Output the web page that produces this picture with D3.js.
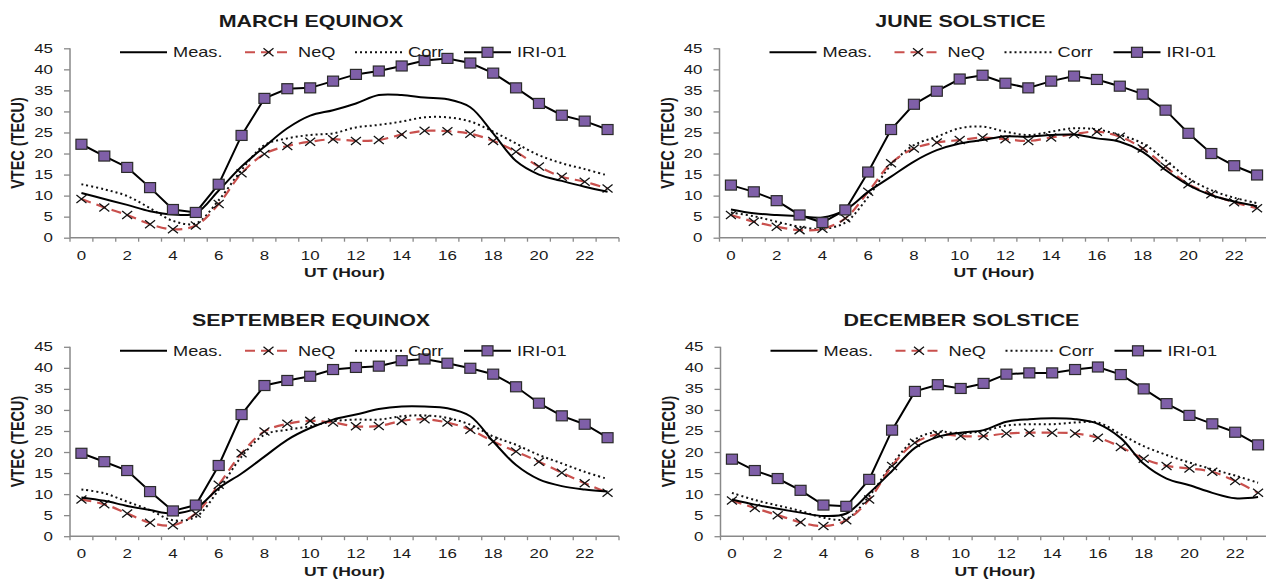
<!DOCTYPE html>
<html>
<head>
<meta charset="utf-8">
<script src="https://cdn.jsdelivr.net/npm/d3@7"></script>
<style>
  html, body { margin: 0; padding: 0; background: #fff; }
  svg { display: block; }
  text { font-family: "Liberation Sans", Arial, sans-serif; fill: #1a1a1a; }
</style>
</head>
<body>
<div id="chart"></div>
<script>
// hours 0..23, every other one labelled
const hours = d3.range(0, 24);
const hourLabels = hours.filter(h => h % 2 === 0);
const yTicks = [0, 5, 10, 15, 20, 25, 30, 35, 40, 45];
const seriesNames = ['Meas.', 'NeQ', 'Corr', 'IRI-01'];

// March equinox
const marchMeas = [10.6, 9.2, 7.8, 6.3, 5.5, 5.8, 11.2, 16.9, 21.6, 26.0, 29.0, 30.3, 31.9, 33.9, 33.9, 33.3, 32.9, 31.0, 24.8, 18.2, 15.0, 13.5, 12.1, 10.9];
const marchNeQ = [9.2, 7.2, 5.4, 3.2, 2.0, 2.9, 8.0, 15.3, 19.9, 21.8, 22.8, 23.4, 23.0, 23.2, 24.5, 25.4, 25.3, 24.7, 23.0, 20.4, 16.9, 14.5, 13.3, 11.7];
const marchCorr = [12.7, 11.5, 9.9, 7.0, 4.0, 3.4, 8.9, 16.1, 22.0, 23.6, 24.4, 24.8, 26.2, 26.8, 27.6, 28.6, 28.6, 27.6, 25.2, 22.4, 19.6, 17.7, 16.3, 14.8];
const marchIRI = [22.2, 19.4, 16.7, 11.9, 6.7, 6.0, 12.7, 24.3, 33.1, 35.4, 35.6, 37.2, 38.8, 39.6, 40.8, 42.1, 42.6, 41.5, 39.1, 35.6, 31.9, 29.1, 27.7, 25.7];

// June solstice
const juneMeas = [6.7, 5.8, 5.4, 5.1, 4.8, 6.6, 10.9, 14.5, 18.1, 20.8, 22.4, 23.2, 24.1, 24.0, 24.4, 24.5, 23.6, 22.8, 20.4, 16.1, 12.5, 10.1, 8.6, 7.5];
const juneNeQ = [5.4, 3.8, 2.6, 1.8, 2.1, 4.6, 10.9, 17.7, 21.2, 22.6, 23.2, 23.8, 23.4, 23.0, 23.8, 24.6, 25.2, 24.0, 21.2, 16.9, 12.7, 10.3, 8.4, 7.0];
const juneCorr = [6.0, 5.1, 3.8, 2.6, 2.1, 3.6, 9.7, 17.3, 22.0, 24.0, 26.0, 26.4, 25.2, 24.4, 25.2, 26.0, 25.7, 24.4, 22.4, 18.4, 14.1, 11.3, 9.5, 8.2];
const juneIRI = [12.5, 10.9, 8.8, 5.4, 3.6, 6.6, 15.6, 25.7, 31.7, 34.8, 37.7, 38.6, 36.7, 35.6, 37.2, 38.4, 37.6, 36.0, 34.1, 30.3, 24.8, 20.0, 17.1, 14.9];

// September equinox
const septMeas = [9.2, 8.4, 7.2, 6.2, 5.4, 6.6, 11.4, 14.9, 18.9, 22.9, 25.7, 27.7, 28.9, 30.2, 30.8, 30.8, 30.4, 28.5, 22.5, 16.9, 13.5, 11.9, 11.1, 10.6];
const septNeQ = [8.7, 7.6, 5.4, 3.2, 2.6, 5.4, 12.2, 19.7, 24.9, 26.7, 27.4, 27.0, 26.1, 26.2, 27.4, 27.8, 27.0, 25.3, 22.5, 20.1, 17.7, 15.1, 12.6, 10.3];
const septCorr = [11.1, 10.2, 8.2, 6.2, 3.8, 4.6, 11.0, 18.9, 24.1, 25.3, 26.1, 27.3, 27.7, 27.7, 28.5, 28.7, 28.1, 26.5, 23.7, 21.7, 19.3, 17.3, 15.3, 13.6];
const septIRI = [19.7, 17.7, 15.6, 10.6, 6.0, 7.4, 16.8, 28.9, 35.8, 37.0, 38.0, 39.6, 40.1, 40.4, 41.7, 42.1, 41.1, 39.9, 38.5, 35.5, 31.6, 28.6, 26.6, 23.4];

// December solstice
const decMeas = [8.7, 7.5, 6.5, 5.6, 4.8, 5.4, 10.2, 15.5, 21.0, 23.6, 24.6, 25.2, 27.2, 27.8, 28.0, 27.8, 26.7, 23.3, 17.2, 13.7, 12.1, 10.3, 9.0, 9.3];
const decNeQ = [8.5, 6.7, 5.0, 3.3, 2.4, 3.8, 8.7, 16.7, 22.2, 24.2, 23.8, 23.8, 24.4, 24.6, 24.6, 24.4, 23.4, 21.2, 18.4, 16.7, 16.1, 15.3, 13.1, 10.3];
const decCorr = [10.3, 8.6, 7.3, 6.0, 4.4, 4.1, 9.5, 17.1, 23.0, 24.8, 24.4, 25.0, 26.3, 26.6, 26.6, 27.0, 27.0, 24.2, 21.4, 19.3, 17.5, 15.9, 14.4, 12.7];
const decIRI = [18.3, 15.6, 13.7, 10.9, 7.4, 7.1, 13.5, 25.2, 34.4, 36.0, 35.1, 36.3, 38.5, 38.8, 38.8, 39.6, 40.2, 38.4, 35.0, 31.5, 28.7, 26.7, 24.7, 21.7];

const panels = [
  { title: 'MARCH EQUINOX', ox: 0, oy: 0, series: [marchMeas, marchNeQ, marchCorr, marchIRI] },
  { title: 'JUNE SOLSTICE', ox: 649.5, oy: 0, series: [juneMeas, juneNeQ, juneCorr, juneIRI] },
  { title: 'SEPTEMBER EQUINOX', ox: 0, oy: 298.5, series: [septMeas, septNeQ, septCorr, septIRI] },
  { title: 'DECEMBER SOLSTICE', ox: 650.5, oy: 298.5, series: [decMeas, decNeQ, decCorr, decIRI] }
];

const W = 1266, H = 582;
const SX = 1.3; // the picture is stretched sideways, text too
const axisColor = '#898989';
const neqColor = '#c9504d';
const iriFill = '#7f5fa8';

const svg = d3.select('#chart').append('svg')
  .attr('width', W).attr('height', H);

// text helper: stretched horizontally like the original
function label(g, str, x, y, opts) {
  opts = opts || {};
  const t = g.append('text')
    .attr('transform', `translate(${x},${y}) scale(${SX},1)` + (opts.rotate ? ` rotate(${opts.rotate})` : ''))
    .attr('text-anchor', opts.anchor || 'start')
    .attr('font-size', opts.size || 13)
    .text(str);
  if (opts.bold) t.attr('font-weight', 'bold');
  return t;
}

function square(g, x, y) {
  g.append('rect')
    .attr('x', x - 5.5).attr('y', y - 5)
    .attr('width', 11).attr('height', 10)
    .attr('fill', iriFill).attr('stroke', '#2b2b2b').attr('stroke-width', 1.2);
}

function cross(g, x, y) {
  g.append('path')
    .attr('d', `M${x - 5},${y - 4}L${x + 5},${y + 4}M${x - 5},${y + 4}L${x + 5},${y - 4}`)
    .attr('stroke', '#111').attr('stroke-width', 1.3).attr('fill', 'none');
}

panels.forEach(p => {
  const left = p.ox + 70, right = p.ox + 619;
  const top = p.oy + 48.3, bottom = p.oy + 237.7;
  const g = svg.append('g');

  const x = d3.scaleBand().domain(hours).range([left, right]).padding(0);
  const y = d3.scaleLinear().domain([0, 45]).range([bottom, top]);
  const cx = h => x(h) + x.bandwidth() / 2;

  // title
  label(g, p.title, p.ox + 311, p.oy + 27, { anchor: 'middle', size: 16.5, bold: true });

  // y axis
  const yAxis = g.append('g')
    .attr('transform', `translate(${left},0)`)
    .call(d3.axisLeft(y).tickValues(yTicks).tickSize(6).tickFormat(''));
  yAxis.select('.domain').attr('stroke', axisColor).attr('stroke-width', 1.5).attr('d', `M0,${top}V${bottom}`);
  yAxis.selectAll('.tick line').attr('stroke', axisColor).attr('stroke-width', 1.3);
  yTicks.forEach(v => label(g, v, left - 17, y(v) + 4.5, { anchor: 'end' }));

  // x axis, ticks between categories
  const xAxisG = g.append('g').attr('transform', `translate(0,${bottom})`);
  xAxisG.append('line')
    .attr('x1', left).attr('x2', right)
    .attr('stroke', axisColor).attr('stroke-width', 1.5);
  xAxisG.selectAll('line.tk')
    .data(hours.concat([24]))
    .enter().append('line')
    .attr('class', 'tk')
    .attr('x1', h => h < 24 ? x(h) : right)
    .attr('x2', h => h < 24 ? x(h) : right)
    .attr('y1', 0).attr('y2', 4)
    .attr('stroke', axisColor).attr('stroke-width', 1.3);
  hourLabels.forEach(h => label(g, h, cx(h), bottom + 22, { anchor: 'middle' }));

  // axis titles
  label(g, 'UT (Hour)', (left + right) / 2, p.oy + 277, { anchor: 'middle', size: 13.5, bold: true });
  label(g, 'VTEC (TECU)', p.ox + 24, (top + bottom) / 2, { anchor: 'middle', size: 14.5, bold: true, rotate: -90 });

  const smooth = d3.line().x((d, i) => cx(i)).y(d => y(d)).curve(d3.curveCatmullRom.alpha(0.5));
  const straight = d3.line().x((d, i) => cx(i)).y(d => y(d));

  const [meas, neq, corr, iri] = p.series;

  g.append('path').attr('d', smooth(corr))
    .attr('fill', 'none').attr('stroke', '#111').attr('stroke-width', 2)
    .attr('stroke-dasharray', '2,3');
  g.append('path').attr('d', smooth(neq))
    .attr('fill', 'none').attr('stroke', neqColor).attr('stroke-width', 2.2)
    .attr('stroke-dasharray', '10,6');
  neq.forEach((v, i) => cross(g, cx(i), y(v)));
  g.append('path').attr('d', smooth(meas))
    .attr('fill', 'none').attr('stroke', '#000').attr('stroke-width', 2);
  g.append('path').attr('d', straight(iri))
    .attr('fill', 'none').attr('stroke', '#000').attr('stroke-width', 2);
  iri.forEach((v, i) => square(g, cx(i), y(v)));

  // legend inside the top of the plot
  const ly = top + 4;
  const offs = [50, 175, 285, 394];
  const len = 47;
  seriesNames.forEach((name, k) => {
    const x0 = left + offs[k];
    const ln = g.append('line')
      .attr('x1', x0).attr('x2', x0 + len)
      .attr('y1', ly).attr('y2', ly)
      .attr('stroke-width', 2);
    if (k === 0) ln.attr('stroke', '#000');
    if (k === 1) { ln.attr('stroke', neqColor).attr('stroke-dasharray', '10,6'); cross(g, x0 + len / 2, ly); }
    if (k === 2) ln.attr('stroke', '#111').attr('stroke-dasharray', '2,3');
    if (k === 3) { ln.attr('stroke', '#000'); square(g, x0 + len / 2, ly); }
    label(g, name, x0 + len + 6, ly + 5, { size: 14 });
  });
});
</script>
</body>
</html>
